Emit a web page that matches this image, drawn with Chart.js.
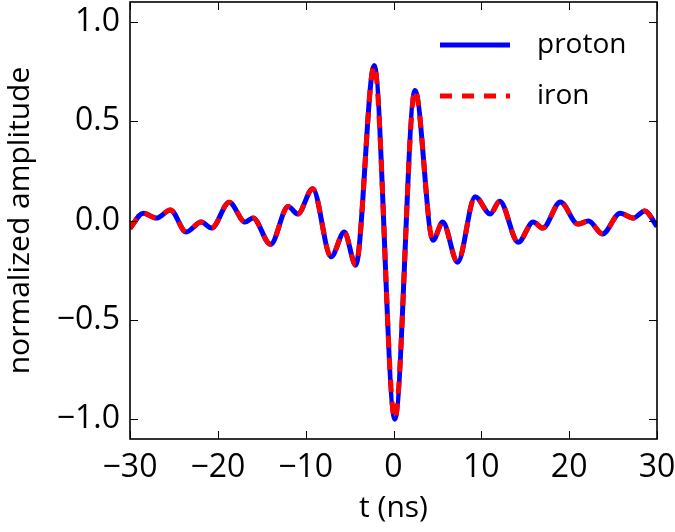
<!DOCTYPE html>
<html>
<head>
<meta charset="utf-8">
<script src="https://cdn.jsdelivr.net/npm/chart.js@4"></script>
<style>
  html, body { margin: 0; padding: 0; background: #fff; }
  #wrap { width: 675px; height: 532px; }
</style>
</head>
<body>
<div id="wrap"><canvas id="pulse-chart"></canvas></div>
<script>
// time samples (ns), at the turning points of the pulse
const TIME_NS = [
  -30, -28.5, -27.0, -25.4, -23.6, -21.9, -20.7, -18.7, -16.9, -16.0,
  -14.0, -12.0, -10.9, -9.2, -7.1, -5.6, -4.3, -2.2, 0.15, 2.45,
  4.5, 5.6, 7.3, 9.3, 11.0, 12.1, 14.2, 15.9, 17.0, 19.0,
  21.0, 22.2, 23.8, 25.8, 27.3, 28.6, 30
];

const PROTON_AMP = [
  -0.04, 0.037, 0.012, 0.053, -0.058, -0.008, -0.038, 0.092, -0.008, 0.013,
  -0.12, 0.07, 0.033, 0.16, -0.183, -0.058, -0.225, 0.78, -1.0, 0.655,
  -0.10, -0.008, -0.21, 0.12, 0.033, 0.097, -0.11, -0.008, -0.038, 0.093,
  -0.018, -0.003, -0.068, 0.037, 0.012, 0.048, -0.03
];

// the iron curve lies on top of the proton curve
const IRON_AMP = [
  -0.04, 0.037, 0.012, 0.053, -0.058, -0.008, -0.038, 0.092, -0.008, 0.013,
  -0.12, 0.07, 0.033, 0.16, -0.183, -0.058, -0.225, 0.78, -1.0, 0.655,
  -0.10, -0.008, -0.21, 0.12, 0.033, 0.097, -0.11, -0.008, -0.038, 0.093,
  -0.018, -0.003, -0.068, 0.037, 0.012, 0.048, -0.03
];

const X_TICKS = [-30, -20, -10, 0, 10, 20, 30];
const Y_TICKS = [-1.0, -0.5, 0.0, 0.5, 1.0];

const FONT = '"Open Sans", "DejaVu Sans", sans-serif';
const minus = (s) => s.replace('-', '\u2212');

const toPoints = (ys) => TIME_NS.map((t, i) => ({ x: t, y: ys[i] }));

// frame, inward ticks on all four sides, and the legend inside the axes
const framePlugin = {
  id: 'frame',
  afterDatasetsDraw(chart) {
    const { ctx, chartArea: a, scales } = chart;
    const tickLen = 8;
    ctx.save();
    ctx.strokeStyle = '#000';
    ctx.lineWidth = 1;
    ctx.beginPath();
    X_TICKS.forEach((v) => {
      const px = Math.round(scales.x.getPixelForValue(v)) + 0.5;
      ctx.moveTo(px, a.bottom); ctx.lineTo(px, a.bottom - tickLen);
      ctx.moveTo(px, a.top); ctx.lineTo(px, a.top + tickLen);
    });
    Y_TICKS.forEach((v) => {
      const py = Math.round(scales.y.getPixelForValue(v)) + 0.5;
      ctx.moveTo(a.left, py); ctx.lineTo(a.left + tickLen, py);
      ctx.moveTo(a.right, py); ctx.lineTo(a.right - tickLen, py);
    });
    ctx.stroke();
    ctx.lineWidth = 1.6;
    ctx.strokeRect(a.left, a.top, a.right - a.left, a.bottom - a.top);

    // legend
    const rows = [45, 96];
    ctx.font = `28px ${FONT}`;
    ctx.textBaseline = 'middle';
    ctx.fillStyle = '#000';
    chart.data.datasets.slice().reverse().forEach((ds, i) => {
      const y = rows[i];
      ctx.beginPath();
      ctx.strokeStyle = ds.borderColor;
      ctx.lineWidth = ds.borderWidth;
      ctx.setLineDash(ds.borderDash || []);
      ctx.moveTo(440, y);
      ctx.lineTo(510, y);
      ctx.stroke();
      ctx.setLineDash([]);
      ctx.fillText(ds.label, 537, y);
    });
    ctx.restore();
  },
};

const ctx = document.getElementById('pulse-chart');

new Chart(ctx, {
  type: 'line',
  data: {
    datasets: [
      {
        label: 'iron',
        data: toPoints(IRON_AMP),
        borderColor: '#ff0000',
        borderWidth: 5,
        borderDash: [12, 10],
        pointRadius: 0,
        cubicInterpolationMode: 'monotone',
        order: 0,
      },
      {
        label: 'proton',
        data: toPoints(PROTON_AMP),
        borderColor: '#0000ff',
        borderWidth: 5,
        pointRadius: 0,
        cubicInterpolationMode: 'monotone',
        order: 1,
      },
    ],
  },
  plugins: [framePlugin],
  options: {
    responsive: true,
    maintainAspectRatio: false,
    animation: false,
    events: [],
    layout: { padding: { top: 2, right: 18, left: 0, bottom: 0 } },
    plugins: {
      legend: { display: false },
      tooltip: { enabled: false },
    },
    scales: {
      x: {
        type: 'linear',
        min: -30,
        max: 30,
        afterBuildTicks: (scale) => { scale.ticks = X_TICKS.map((v) => ({ value: v })); },
        afterFit: (scale) => {
          scale.height = 93;
          scale.paddingLeft = 0;
          scale.paddingRight = 0;
        },
        grid: { display: false, drawTicks: false },
        border: { display: false },
        ticks: {
          color: '#000',
          font: { family: FONT, size: 32 },
          padding: 10,
          maxRotation: 0,
          callback: (v) => minus(String(v)),
        },
        title: {
          display: true,
          text: 't (ns)',
          color: '#000',
          font: { family: FONT, size: 30 },
          padding: { top: 0, bottom: 6 },
        },
      },
      y: {
        type: 'linear',
        min: -1.1,
        max: 1.1,
        afterBuildTicks: (scale) => { scale.ticks = Y_TICKS.map((v) => ({ value: v })); },
        afterFit: (scale) => {
          scale.width = 130;
          scale.paddingTop = 0;
          scale.paddingBottom = 0;
        },
        grid: { display: false, drawTicks: false },
        border: { display: false },
        ticks: {
          color: '#000',
          font: { family: FONT, size: 32 },
          padding: 10,
          callback: (v) => minus(Number(v).toFixed(1)),
        },
        title: {
          display: true,
          text: 'normalized amplitude',
          color: '#000',
          font: { family: FONT, size: 30 },
          padding: { top: 2, bottom: 0 },
        },
      },
    },
  },
});
</script>
</body>
</html>
